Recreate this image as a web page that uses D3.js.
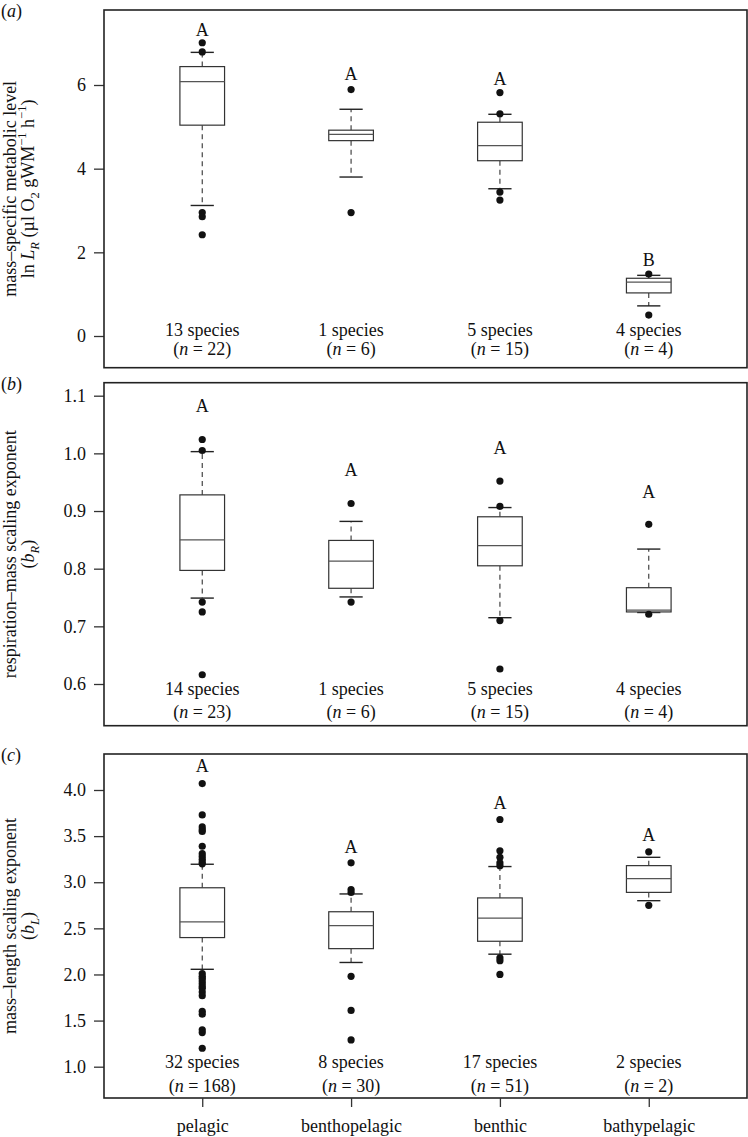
<!DOCTYPE html>
<html><head><meta charset="utf-8">
<script src="https://cdn.jsdelivr.net/npm/d3@7"></script>
<style>
body{margin:0;background:#fff}
svg{display:block}
text{font-family:"Liberation Serif","Times New Roman",serif;fill:#111}
</style>
</head><body>
<svg id="chart" width="748" height="1137"></svg>
<script>
// ---------------- DATA ----------------
const categories = ["pelagic", "benthopelagic", "benthic", "bathypelagic"];

// box stats: [lower whisker, Q1, median, Q3, upper whisker]
const statsA = [
  [3.12, 5.04, 6.08, 6.44, 6.78],
  [3.80, 4.67, 4.82, 4.92, 5.42],
  [3.52, 4.19, 4.55, 5.11, 5.30],
  [0.72, 1.03, 1.29, 1.38, 1.45]
];
const outliersA = [
  [7.01, 6.79, 2.95, 2.85, 2.42],
  [5.89, 2.95],
  [5.82, 5.31, 3.44, 3.25],
  [1.48, 0.50]
];
const lettersA = ["A", "A", "A", "B"];
const letterPosA = [7.32, 6.26, 6.16, 1.83];
const speciesA = [13, 1, 5, 4];
const nA = [22, 6, 15, 4];
const ticksA = [0, 2, 4, 6];

const statsB = [
  [0.749, 0.797, 0.850, 0.928, 1.003],
  [0.751, 0.766, 0.813, 0.849, 0.882],
  [0.715, 0.805, 0.840, 0.890, 0.906],
  [0.724, 0.725, 0.728, 0.767, 0.834]
];
const outliersB = [
  [1.024, 1.005, 0.742, 0.725, 0.616],
  [0.913, 0.742],
  [0.952, 0.908, 0.710, 0.626],
  [0.877, 0.721]
];
const lettersB = ["A", "A", "A", "A"];
const letterPosB = [1.082, 0.971, 1.009, 0.934];
const speciesB = [14, 1, 5, 4];
const nB = [23, 6, 15, 4];
const ticksB = [0.6, 0.7, 0.8, 0.9, 1.0, 1.1];

const statsC = [
  [2.056, 2.40, 2.57, 2.94, 3.195],
  [2.13, 2.28, 2.53, 2.68, 2.873],
  [2.22, 2.36, 2.61, 2.83, 3.17],
  [2.80, 2.89, 3.04, 3.18, 3.27]
];
const outliersC = [
  [4.07, 3.73, 3.60, 3.57, 3.55, 3.39, 3.31, 3.28, 3.25, 3.22, 3.20,
   2.01, 1.98, 1.96, 1.93, 1.90, 1.87, 1.85, 1.81, 1.77, 1.60, 1.57, 1.40, 1.37, 1.20],
  [3.21, 2.92, 2.89, 1.98, 1.61, 1.29],
  [3.68, 3.34, 3.27, 3.21, 3.18, 2.18, 2.15, 2.00],
  [3.33, 2.75]
];
const lettersC = ["A", "A", "A", "A"];
const letterPosC = [4.26, 3.39, 3.86, 3.51];
const speciesC = [32, 8, 17, 2];
const nC = [168, 30, 51, 2];
const ticksC = [1.0, 1.5, 2.0, 2.5, 3.0, 3.5, 4.0];

// ---------------- LAYOUT ----------------
const FS = 18;
const frameL = 104, frameR = 747;
const svg = d3.select("#chart");

const x = d3.scalePoint().domain(categories).range([frameL, frameR]).padding(0.66);
const boxW = x.step() * 0.3;
const capW = boxW * 0.52;

function rich(sel, segs, fs) {
  let shift = 0;
  segs.forEach(s => {
    const target = s.sub ? 0.3 * fs : s.sup ? -0.42 * fs : 0;
    const ts = sel.append("tspan").text(s.t);
    if (target - shift !== 0) ts.attr("dy", target - shift);
    shift = target;
    if (s.sub || s.sup) ts.attr("font-size", fs * 0.7);
    if (s.it) ts.attr("font-style", "italic");
  });
}

const panels = [
  { tag: "a", stats: statsA, out: outliersA, letters: lettersA, letterPos: letterPosA,
    species: speciesA, n: nA, ticks: ticksA, fmt: d3.format("d"),
    top: 10, bottom: 367.7, dom: [0, 6], rng: [336, 85], gap1: 31.5, gap2: 12.5,
    title1: [{t: "mass–specific metabolic level"}],
    title2: [{t: "ln "}, {t: "L", it: true}, {t: "R", it: true, sub: true}, {t: " (µl O"}, {t: "2", sub: true},
             {t: " gWM"}, {t: "−1", sup: true}, {t: " h"}, {t: "−1", sup: true}, {t: ")"}] },
  { tag: "b", stats: statsB, out: outliersB, letters: lettersB, letterPos: letterPosB,
    species: speciesB, n: nB, ticks: ticksB, fmt: d3.format(".1f"),
    top: 382.7, bottom: 725.7, dom: [0.6, 1.1], rng: [684, 395.7], gap1: 30.5, gap2: 7.5,
    title1: [{t: "respiration–mass scaling exponent"}],
    title2: [{t: "("}, {t: "b", it: true}, {t: "R", it: true, sub: true}, {t: ")"}] },
  { tag: "c", stats: statsC, out: outliersC, letters: lettersC, letterPos: letterPosC,
    species: speciesC, n: nC, ticks: ticksC, fmt: d3.format(".1f"),
    top: 754, bottom: 1098, dom: [1, 4], rng: [1066.7, 790], gap1: 30, gap2: 6.5,
    title1: [{t: "mass–length scaling exponent"}],
    title2: [{t: "("}, {t: "b", it: true}, {t: "L", it: true, sub: true}, {t: ")"}] }
];

panels.forEach((p, pi) => {
  const y = d3.scaleLinear().domain(p.dom).range(p.rng);
  const g = svg.append("g");

  // y axis
  const ax = g.append("g").attr("transform", `translate(${frameL},0)`)
    .call(d3.axisLeft(y).tickValues(p.ticks).tickFormat(p.fmt).tickSize(10).tickPadding(8));
  ax.select(".domain").remove();
  ax.selectAll("line").attr("stroke", "#333").attr("stroke-width", 1.3);
  ax.selectAll("text").attr("font-size", FS).attr("font-family", "Liberation Serif, Times New Roman, serif").attr("fill", "#111");

  // boxes
  categories.forEach((c, i) => {
    const s = p.stats[i];
    const cx = x(c);
    const bg = g.append("g");
    // whiskers (dashed)
    bg.append("line").attr("x1", cx).attr("x2", cx).attr("y1", y(s[3])).attr("y2", y(s[4]))
      .attr("stroke", "#333").attr("stroke-width", 1.1).attr("stroke-dasharray", "5,4");
    bg.append("line").attr("x1", cx).attr("x2", cx).attr("y1", y(s[1])).attr("y2", y(s[0]))
      .attr("stroke", "#333").attr("stroke-width", 1.1).attr("stroke-dasharray", "5,4");
    // caps
    [s[0], s[4]].forEach(v => {
      bg.append("line").attr("x1", cx - capW / 2).attr("x2", cx + capW / 2).attr("y1", y(v)).attr("y2", y(v))
        .attr("stroke", "#222").attr("stroke-width", 1.4);
    });
    // box
    bg.append("rect").attr("x", cx - boxW / 2).attr("width", boxW)
      .attr("y", y(s[3])).attr("height", y(s[1]) - y(s[3]))
      .attr("fill", "#fff").attr("stroke", "#333").attr("stroke-width", 1.2);
    bg.append("line").attr("x1", cx - boxW / 2).attr("x2", cx + boxW / 2).attr("y1", y(s[2])).attr("y2", y(s[2]))
      .attr("stroke", "#555").attr("stroke-width", 1.2);
    // outliers
    bg.selectAll("circle").data(p.out[i]).join("circle")
      .attr("cx", cx).attr("cy", d => y(d)).attr("r", 3.6).attr("fill", "#111");
    // letter
    g.append("text").attr("x", cx).attr("y", y(p.letterPos[i])).attr("dy", "0.35em")
      .attr("text-anchor", "middle").attr("font-size", FS).text(p.letters[i]);
    // species / n text
    g.append("text").attr("x", cx).attr("y", p.bottom - p.gap1).attr("text-anchor", "middle")
      .attr("font-size", FS).text(p.species[i] + " species");
    const t2 = g.append("text").attr("x", cx).attr("y", p.bottom - p.gap2).attr("text-anchor", "middle")
      .attr("font-size", FS);
    rich(t2, [{t: "("}, {t: "n", it: true}, {t: " = " + p.n[i] + ")"}], FS);
  });

  // frame
  g.append("rect").attr("x", frameL).attr("y", p.top).attr("width", frameR - frameL).attr("height", p.bottom - p.top)
    .attr("fill", "none").attr("stroke", "#222").attr("stroke-width", 1.6);

  // panel tag
  const tg = g.append("text").attr("x", 1).attr("y", p.top + 7).attr("font-size", FS);
  rich(tg, [{t: "("}, {t: p.tag, it: true}, {t: ")"}], FS);

  // y titles
  const cy = (p.top + p.bottom) / 2;
  const t1 = g.append("text").attr("transform", `translate(16,${cy}) rotate(-90)`)
    .attr("text-anchor", "middle").attr("font-size", FS);
  rich(t1, p.title1, FS);
  const tt2 = g.append("text").attr("transform", `translate(33.5,${cy}) rotate(-90)`)
    .attr("text-anchor", "middle").attr("font-size", FS);
  rich(tt2, p.title2, FS);

  // x axis for last panel
  if (pi === panels.length - 1) {
    const xa = g.append("g").attr("transform", `translate(0,${p.bottom})`)
      .call(d3.axisBottom(x).tickSize(9).tickPadding(12));
    xa.select(".domain").remove();
    xa.selectAll("line").attr("stroke", "#333").attr("stroke-width", 1.3);
    xa.selectAll("text").attr("font-size", FS).attr("font-family", "Liberation Serif, Times New Roman, serif").attr("fill", "#111");
  }
});
</script>
</body></html>
